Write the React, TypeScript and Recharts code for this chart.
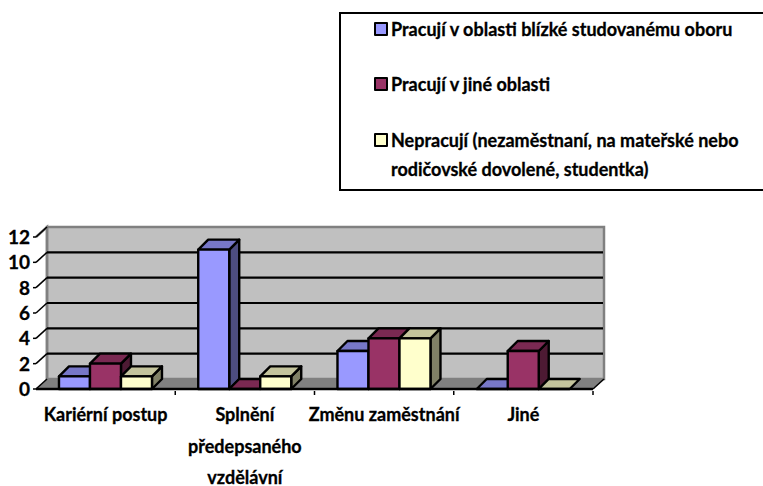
import React from "react";
import { BarChart, Bar, XAxis, YAxis, CartesianGrid, Legend } from "recharts";

const categories = ["Kariérní postup", "Splnění předepsaného vzdělávní", "Změnu zaměstnání", "Jiné"];
const categoryLines = [["Kariérní postup"], ["Splnění", "předepsaného", "vzdělávní"], ["Změnu zaměstnání"], ["Jiné"]];
const seriesNames = [
  "Pracují v oblasti blízké studovanému oboru",
  "Pracují v jiné oblasti",
  "Nepracují (nezaměstnaní, na mateřské nebo rodičovské dovolené, studentka)",
];
const blizke = [1, 11, 3, 0];
const jine = [2, 0, 4, 3];
const nepracuji = [1, 1, 4, 0];
const yTicks = [0, 2, 4, 6, 8, 10, 12];

const fronts = ["#9999FF", "#993366", "#FFFFCC"];
const tops = ["#7777C8", "#7A2952", "#C4C49C"];
const sides = ["#4D4D80", "#4D1A33", "#808066"];

const data = categories.map((c, i) => ({ name: c, a: blizke[i], b: jine[i], c: nepracuji[i] }));

const FONT = "Lato, sans-serif";
const DX = 11;
const DY = -10;
const BD = 10;

const Bar3D = (color: number) => (p: any) => {
  const { x, y, width, height } = p;
  const b = y + height;
  return (
    <g stroke="#000" strokeWidth={2.4} strokeLinejoin="round">
      {height > 0 && <polygon points={`${x + width},${y} ${x + width + BD},${y - BD} ${x + width + BD},${b - BD} ${x + width},${b}`} fill={sides[color]} />}
      <polygon points={`${x},${y} ${x + BD},${y - BD} ${x + width + BD},${y - BD} ${x + width},${y}`} fill={tops[color]} />
      {height > 0 && <rect x={x} y={y} width={width} height={height} fill={fronts[color]} />}
    </g>
  );
};

const gridLine = (p: any) => {
  const { x1, x2, y1, index, x, y, width, height } = p;
  const left = x ?? x1;
  const right = x != null ? x + width : x2;
  const top = y;
  const bottom = y + height;
  return (
    <g key={p.key ?? index}>
      {index === 0 && (
        <g>
          <polygon points={`${left + DX},${top + DY} ${right + DX},${top + DY} ${right + DX},${bottom + DY} ${left + DX},${bottom + DY}`} fill="#C0C0C0" stroke="#808080" strokeWidth={2.5} />
          <polygon points={`${left},${bottom} ${left + DX},${bottom + DY} ${right + DX},${bottom + DY} ${right},${bottom}`} fill="#808080" />
          <polyline points={`${left},${top} ${left + DX},${top + DY} ${left + DX},${bottom + DY}`} fill="none" stroke="#808080" strokeWidth={2.5} />
        </g>
      )}
      {y1 < bottom - 1 && y1 > top + 1 && (
        <line x1={left + DX} x2={right + DX - 1} y1={y1 + DY} y2={y1 + DY} stroke="#000" strokeWidth={2.2} />
      )}
      <line x1={left} x2={left + DX} y1={y1} y2={y1 + DY} stroke="#000" strokeWidth={1.5} />
      {y1 >= bottom - 1 && <line x1={right} x2={right + DX} y1={y1} y2={y1 + DY} stroke="#000" strokeWidth={1.5} />}
    </g>
  );
};

const XTick = (p: any) => {
  const half = p.width / categories.length / 2;
  const lines = categoryLines[p.index] ?? [];
  return (
    <g>
      <line x1={p.x + half} x2={p.x + half} y1={p.y - 4} y2={p.y} stroke="#000" strokeWidth={1.5} />
      {lines.map((t: string, i: number) => (
        <text key={t} x={p.x} y={p.y + 26 + i * 31.5} textAnchor="middle" fontFamily={FONT} fontWeight={700} fontSize={18} fill="#000" stroke="#000" strokeWidth={0.3}>
          {t}
        </text>
      ))}
    </g>
  );
};

const YTick = (p: any) => (
  <text x={p.x - 1} y={p.y + 7} textAnchor="end" fontFamily={FONT} fontWeight={700} fontSize={19} fill="#000" stroke="#000" strokeWidth={0.3}>
    {p.payload.value}
  </text>
);

const LegendBox = () => (
  <div style={{ position: "relative", boxSizing: "border-box", width: 440, height: 179, border: "2px solid #000", background: "#fff", fontFamily: FONT, fontWeight: 700, fontSize: 18, color: "#000", textAlign: "left", WebkitTextStroke: "0.3px #000" }}>
    {seriesNames.map((n, i) => (
      <div key={n} style={{ position: "absolute", left: 33, top: [1, 56, 112][i], width: 378, lineHeight: "29px" }}>
        <span style={{ position: "absolute", left: 0, top: 7, width: 10, height: 10, background: fronts[i], border: "2px solid #000", borderRadius: 1 }} />
        <div style={{ paddingLeft: 17 }}>{n}</div>
      </div>
    ))}
  </div>
);

export default function App() {
  return (
    <div style={{ position: "absolute", left: 0, top: 0, width: 763, height: 486, overflow: "hidden" }}>
      <BarChart width={763} height={486} data={data} margin={{ top: 237, right: 170, left: 0, bottom: 0 }} barGap={0} barCategoryGap="16.5%">
        <CartesianGrid vertical={false} horizontal={gridLine} />
        <XAxis dataKey="name" height={97} interval={0} tickLine={false} axisLine={{ stroke: "#000", strokeWidth: 2.4 }} tick={XTick} tickMargin={0} />
        <YAxis width={36} domain={[0, 12]} ticks={yTicks} interval={0} axisLine={false} tickSize={3} tickLine={{ stroke: "#000", strokeWidth: 1.5 }} tick={YTick} />
        <Legend content={<LegendBox />} layout="vertical" align="center" verticalAlign="middle" wrapperStyle={{ left: 339, top: 12, width: 440, height: 179 }} />
        <Bar dataKey="a" name={seriesNames[0]} shape={Bar3D(0)} isAnimationActive={false} />
        <Bar dataKey="b" name={seriesNames[1]} shape={Bar3D(1)} isAnimationActive={false} />
        <Bar dataKey="c" name={seriesNames[2]} shape={Bar3D(2)} isAnimationActive={false} />
      </BarChart>
    </div>
  );
}
